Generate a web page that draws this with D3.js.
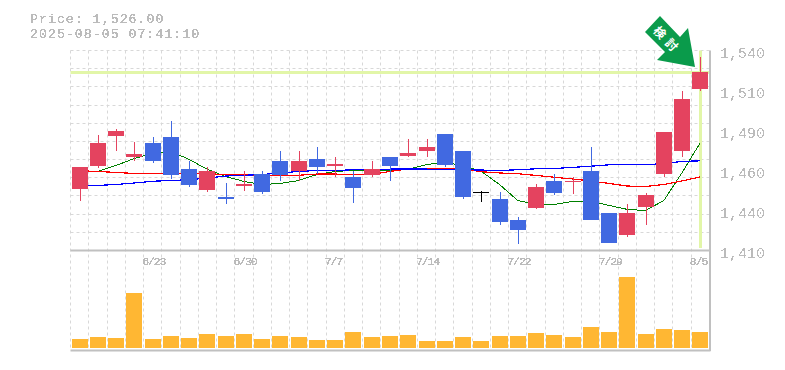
<!DOCTYPE html>
<html>
<head>
<meta charset="utf-8">
<script src="https://cdn.jsdelivr.net/npm/d3@7"></script>
<style>
  html, body { margin: 0; padding: 0; background: #fff; }
  text { font-family: "Liberation Mono", monospace; fill: #bbb; }
</style>
</head>
<body>
<div id="chart"></div>
<script>
const CHART_WIDTH = 785;
const CHART_HEIGHT = 370;

// Data
const dates = ['6/17','6/18','6/19','6/20','6/23','6/24','6/25','6/26','6/27','6/30','7/1','7/2','7/3','7/4','7/7','7/8','7/9','7/10','7/11','7/14','7/15','7/16','7/17','7/18','7/22','7/23','7/24','7/25','7/28','7/29','7/30','7/31','8/1','8/4','8/5'];
const dateTicks = ['6/23','6/30','7/7','7/14','7/22','7/29','8/5'];

const opens = [1450,1464.6,1484.8,1470.5,1479.6,1483.5,1463.3,1449.7,1445.1,1451.6,1460,1468.5,1462,1469.2,1464.6,1457.5,1459.4,1470.5,1471.1,1474.4,1485.4,1474.4,1447.7,1443.2,1429.5,1438,1455.5,1454.9,1461.4,1434.1,1419.8,1438,1459.4,1474.4,1514.7];
const closes = [1464,1479.6,1488,1472.4,1467.9,1458.8,1452.9,1462,1443.8,1452.9,1448.4,1459.4,1468.5,1464,1465.9,1450.3,1463.3,1464.6,1473.1,1477,1465.3,1444.5,1447.7,1428.2,1423,1451.6,1447.7,1455.5,1429.5,1414.6,1434.1,1445.8,1486.7,1508.2,1526];
const highs = [1464,1484.8,1488.7,1480.2,1483.5,1494.5,1468.5,1464.6,1453.6,1462,1462,1474.4,1475,1477.6,1471.1,1462,1467.9,1470.5,1482.8,1482.2,1485.4,1474.4,1449,1447.7,1432.1,1452.9,1459.4,1458.1,1477,1434.1,1439.9,1447.1,1486.7,1514,1536.1];
const lows = [1442.5,1463.8,1475,1468,1466.6,1456.2,1451,1447.7,1439.9,1449,1446.4,1454.9,1454.9,1459.4,1457.5,1440.6,1457.5,1454.9,1470.5,1471.1,1464,1443.8,1441.2,1426.3,1413.9,1437.3,1445.8,1446.4,1429.5,1414.6,1418.5,1426.3,1457.5,1470.5,1513.4];

const maShort = [1461.4,1461.4,1465.3,1469.8,1473.1,1474.4,1469.2,1462.7,1458.1,1454.9,1452.9,1453.6,1455.5,1459.4,1461.4,1462,1462,1462,1462.7,1465.9,1467.2,1465.3,1461.4,1452.9,1442.5,1439.9,1439.9,1441.9,1441.9,1439.3,1436.7,1436,1442.5,1460.7,1480.2];
const maMid = [1461.8,1461.4,1460.7,1460.1,1459.9,1459.9,1459.9,1459.9,1459.4,1459.2,1458.8,1458.6,1458.9,1459.7,1459.7,1459.2,1459.4,1461.4,1463,1463.3,1463.5,1463,1461.2,1460.4,1459.9,1458.8,1457.6,1456.5,1455.2,1453.6,1451.9,1451.6,1452.9,1455.2,1457.9];
const maLong = [1451.9,1452.3,1452.9,1453.9,1455,1455.5,1456,1457.1,1458.4,1458.9,1459.4,1460.4,1461.4,1462,1462,1462.5,1462.9,1462.9,1463,1462.9,1462.7,1462.5,1462.3,1462,1462.5,1463.1,1463.3,1464,1464.8,1465.7,1465.7,1465.7,1466.6,1467.9,1468.3];

const volumes = [18,22,20,110,18,24,20,28,24,28,18,24,22,16,16,32,22,24,26,14,14,22,14,24,24,30,26,22,42,32,142,28,38,36,32];

const priceTicks = [1540,1514,1488,1462,1436,1410];
const currentPrice = 1526;
const titleLines = ['Price: 1,526.00','2025-08-05 07:41:10'];

const MARGIN = { left: 70.5, right: 709.5, top: 50.5, mid: 250.5, bottom: 350.5 };

const svg = d3.select('#chart').append('svg')
  .attr('width', CHART_WIDTH)
  .attr('height', CHART_HEIGHT)
  .style('display', 'block');

// hard edged text, the reference has no smoothing on its glyphs
const defs = svg.append('defs');
[['hard', '0 0 1 1'], ['hardSmall', '0 1 1 1']].forEach(([id, table]) => {
  defs.append('filter')
    .attr('id', id)
    .attr('x', '-5%').attr('y', '-5%').attr('width', '110%').attr('height', '110%')
    .append('feComponentTransfer')
    .append('feFuncA')
    .attr('type', 'discrete')
    .attr('tableValues', table);
});

const xScale = d3.scaleBand()
  .domain(dates)
  .range([MARGIN.left, MARGIN.right]);

const yScale = d3.scaleLinear()
  .domain([1410, 1540])
  .range([MARGIN.mid, MARGIN.top]);

const volScale = d3.scaleLinear()
  .domain([0, 142])
  .range([348, 277]);

const xCenter = (d) => xScale(d) + xScale.bandwidth() / 2;
const GRID = '#d8d8d8';
const AXIS = '#c0c0c0';

// Grid
const yGrid = d3.range(0, 11).map((i) => 1410 + i * 130 / 11 + 130 / 11);
svg.append('g').selectAll('line')
  .data(yGrid)
  .join('line')
  .attr('x1', MARGIN.left)
  .attr('x2', MARGIN.right)
  .attr('y1', (d) => Math.round(yScale(d) - 0.5) + 0.5)
  .attr('y2', (d) => Math.round(yScale(d) - 0.5) + 0.5)
  .attr('stroke', GRID)
  .attr('stroke-dasharray', '3 3');

svg.append('g').selectAll('line')
  .data(dates)
  .join('line')
  .attr('x1', (d) => Math.round(xScale(d) - 0.5) + 0.5)
  .attr('x2', (d) => Math.round(xScale(d) - 0.5) + 0.5)
  .attr('y1', MARGIN.top)
  .attr('y2', MARGIN.bottom)
  .attr('stroke', GRID)
  .attr('stroke-dasharray', '3 3');

// Current price guides
svg.append('line')
  .attr('x1', MARGIN.left)
  .attr('x2', MARGIN.right)
  .attr('y1', Math.round(yScale(currentPrice)) + 0.5)
  .attr('y2', Math.round(yScale(currentPrice)) + 0.5)
  .attr('stroke', '#e2f6a8')
  .attr('stroke-width', 3);
svg.append('line')
  .attr('x1', Math.round(xCenter('8/5')) + 0.5)
  .attr('x2', Math.round(xCenter('8/5')) + 0.5)
  .attr('y1', MARGIN.top)
  .attr('y2', 248)
  .attr('stroke', '#e2f6a8')
  .attr('stroke-width', 3);

// Frame
svg.append('path')
  .attr('d', `M${MARGIN.right + 0.5},${MARGIN.top}V${MARGIN.bottom + 0.5}M${MARGIN.left},${MARGIN.mid}H${MARGIN.right + 1}M${MARGIN.left},${MARGIN.bottom}H${MARGIN.right + 1}`)
  .attr('fill', 'none')
  .attr('stroke', AXIS)
  .attr('stroke-width', 2);

// Moving averages
const maLine = (values) => d3.line()
  .x((d, i) => xCenter(dates[i]))
  .y((d) => yScale(d))(values);

[[maShort, '#008000', 1], [maMid, '#ff0000', 1.2], [maLong, '#0000ff', 1.2]].forEach(([values, color, w]) => {
  svg.append('path')
    .attr('d', maLine(values))
    .attr('fill', 'none')
    .attr('stroke', color)
    .attr('stroke-width', w)
    .attr('shape-rendering', 'crispEdges');
});

// Candles
const candleColor = (i) => closes[i] > opens[i] ? '#e4435f' : closes[i] < opens[i] ? '#4169e1' : '#000';

svg.append('g').selectAll('line')
  .data(dates)
  .join('line')
  .attr('x1', (d) => Math.round(xCenter(d)) + 0.5)
  .attr('x2', (d) => Math.round(xCenter(d)) + 0.5)
  .attr('y1', (d, i) => Math.round(yScale(highs[i])))
  .attr('y2', (d, i) => Math.round(yScale(lows[i])))
  .attr('stroke', (d, i) => candleColor(i));

svg.append('g').selectAll('rect')
  .data(dates)
  .join('rect')
  .attr('x', (d) => Math.round(xCenter(d)) - 8)
  .attr('width', 16)
  .attr('y', (d, i) => Math.round(yScale(Math.max(opens[i], closes[i]))))
  .attr('height', (d, i) => Math.max(1, Math.round(Math.abs(yScale(opens[i]) - yScale(closes[i])))))
  .attr('fill', (d, i) => candleColor(i));

// Volume
svg.append('g').selectAll('rect')
  .data(dates)
  .join('rect')
  .attr('x', (d) => Math.round(xCenter(d)) - 8)
  .attr('width', 16)
  .attr('y', (d, i) => Math.round(volScale(volumes[i])))
  .attr('height', (d, i) => 348 - Math.round(volScale(volumes[i])))
  .attr('fill', '#ffb733');

// Labels
svg.append('g').attr('filter', 'url(#hardSmall)').selectAll('text')
  .data(titleLines)
  .join('text')
  .attr('x', 30)
  .attr('y', (d, i) => 23 + i * 15)
  .attr('font-size', 13.2)
  .attr('letter-spacing', 1.05)
  .text((d) => d);

svg.append('g').attr('filter', 'url(#hard)').selectAll('text')
  .data(priceTicks)
  .join('text')
  .attr('x', 720)
  .attr('y', (d) => yScale(d) + 7)
  .attr('font-size', 15)
  .text((d) => d3.format(',')(Math.round(d / 10) * 10));

svg.append('g').attr('filter', 'url(#hardSmall)').selectAll('text')
  .data(dateTicks)
  .join('text')
  .attr('x', (d) => xCenter(d) - 10.5)
  .attr('y', 265)
  .attr('font-size', 11.5)
  .attr('letter-spacing', -1.1)
  .text((d) => d);

// Signal arrow
const arrowPoints = [[660,16],[645,32],[665,52],[657,60],[695,67],[688,28],[680,37]];
svg.append('polygon')
  .attr('points', arrowPoints.map((p) => p.join(',')).join(' '))
  .attr('fill', '#0a9b4b');
svg.append('text')
  .attr('transform', 'translate(666.5,38) rotate(47)')
  .attr('x', 2.5)
  .attr('text-anchor', 'middle')
  .attr('dominant-baseline', 'central')
  .attr('font-size', 12)
  .attr('letter-spacing', 5)
  .style('font-family', '"Noto Sans CJK JP"')
  .style('font-weight', 700)
  .style('fill', '#fff')
  .text('検討');
</script>
</body>
</html>
